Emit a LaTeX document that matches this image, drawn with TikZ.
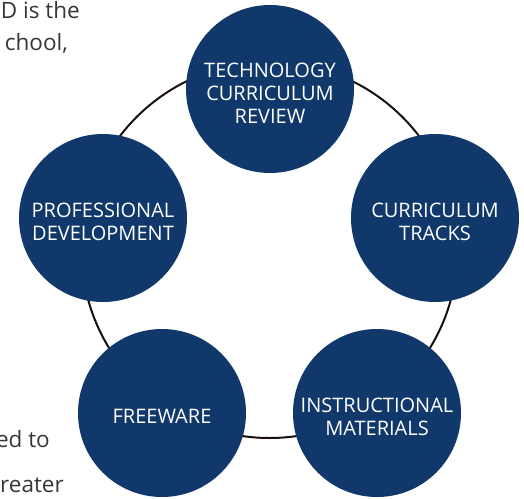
\documentclass[tikz,border=0pt]{standalone}
\usepackage{fontspec}
\setmainfont{Open Sans}
\definecolor{navy}{RGB}{16,56,106}
\definecolor{ringc}{RGB}{26,16,14}
\definecolor{bodytext}{RGB}{55,55,55}
\begin{document}
\begin{tikzpicture}[x=1pt,y=-1pt,
  bubble/.style={circle,fill=navy,minimum size=168pt,inner sep=0pt},
  btext/.style={text=white,align=center,font=\fontsize{20}{23}\selectfont},
  side/.style={text=bodytext,font=\fontsize{22.5}{26}\selectfont,inner sep=0pt,anchor=base east}]
\useasboundingbox (0,0) rectangle (524,498);
\clip (0,0) rectangle (524,498);
\fill[white] (0,0) rectangle (524,498);
\coordinate (ring) at (269.5,250);
\draw[ringc,line width=2pt] (ring) circle (188pt);
\node[bubble] (c1) at (270,89) {};
\node[bubble] (c2) at (435,218) {};
\node[bubble] (c3) at (377,413) {};
\node[bubble] (c4) at (162,413) {};
\node[bubble] (c5) at (103,218) {};
\node[btext] (t1) at ([yshift=-4pt]c1.center) {TECHNOLOGY\\CURRICULUM\\REVIEW};
\node[btext] (t2) at ([yshift=-4pt]c2.center) {CURRICULUM\\TRACKS};
\node[btext] (t3) at ([yshift=-4pt]c3.center) {INSTRUCTIONAL\\MATERIALS};
\node[btext] (t4) at ([yshift=-3pt]c4.center) {FREEWARE};
\node[btext] (t5) at ([yshift=-4pt]c5.center) {PROFESSIONAL\\DEVELOPMENT};
\node[side] (s1) at (80,18) {D is the};
\node[side] (s2) at (68,50) {chool,};
\node[side] (s3) at (50,447) {ed to};
\node[side] (s4) at (64,492) {reater};
\end{tikzpicture}
\end{document}
